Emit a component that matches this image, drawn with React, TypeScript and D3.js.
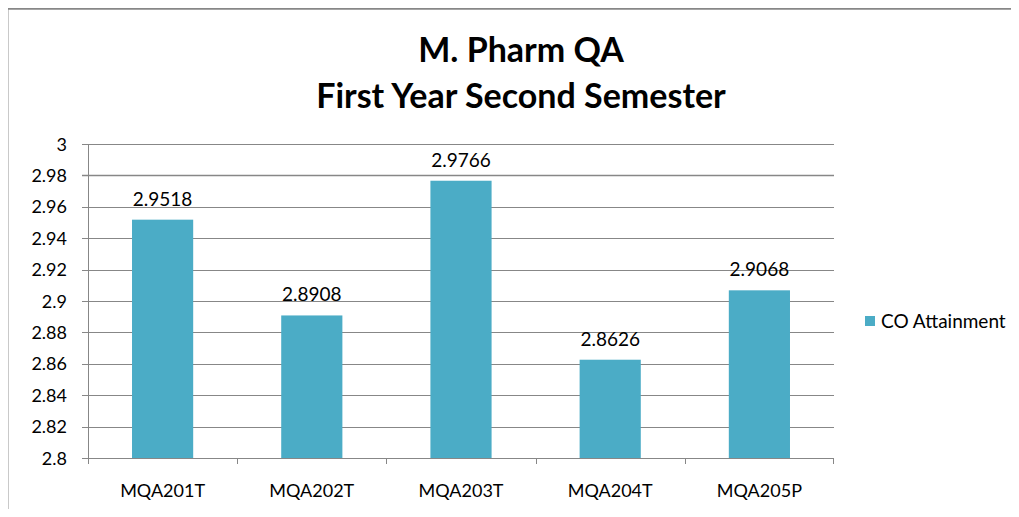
import React from 'react';
import * as d3 from 'd3';

const categories = ['MQA201T', 'MQA202T', 'MQA203T', 'MQA204T', 'MQA205P'];
const coAttainment = [2.9518, 2.8908, 2.9766, 2.8626, 2.9068];
const yTicks = [2.8, 2.82, 2.84, 2.86, 2.88, 2.9, 2.92, 2.94, 2.96, 2.98, 3];
const titleLines = ['M. Pharm QA', 'First Year Second Semester'];
const seriesName = 'CO Attainment';

const W = 1019;
const H = 517;
const FONT = 'Lato, "Open Sans", sans-serif';
const BAR = '#4bacc6';
const GRID = '#878787';

const App: React.FC = () => {
  const left = 88;
  const right = 834;
  const top = 144;
  const bottom = 458;

  const x = d3.scaleBand<string>().domain(categories).range([left, right]).paddingInner(0.59).paddingOuter(0.295);
  const band = d3.scaleBand<string>().domain(categories).range([left, right]);
  const y = d3.scaleLinear().domain([2.8, 3]).range([bottom, top]);

  return (
    <div style={{ margin: -8 }}>
      <svg width={W} height={H} style={{ display: 'block', background: '#fff' }}>
        {/* frame */}
        <line x1={7} y1={8.5} x2={W} y2={8.5} stroke={GRID} strokeWidth={2.5} />
        <line x1={7.2} y1={8} x2={7.2} y2={H} stroke={GRID} strokeWidth={2.5} />

        {/* title */}
        {titleLines.map((t, i) => (
          <text key={t} x={521} y={62 + i * 46} textAnchor="middle" fontFamily={FONT} fontWeight="bold" fontSize={34} fill="#000">
            {t}
          </text>
        ))}

        {/* gridlines + y ticks */}
        {yTicks.map((v) => (
          <g key={v}>
            <line x1={left - 6} x2={right} y1={Math.round(y(v)) + 0.5} y2={Math.round(y(v)) + 0.5} stroke={GRID} strokeWidth={v === 2.98 ? 1.6 : 1} />
            <text x={67} y={y(v) + 6.5} textAnchor="end" fontFamily={FONT} fontSize={18} fill="#000">
              {d3.format('')(v)}
            </text>
          </g>
        ))}

        {/* axes */}
        <line x1={left + 0.5} x2={left + 0.5} y1={top} y2={bottom} stroke={GRID} />
        <line x1={left} x2={right} y1={bottom + 0.5} y2={bottom + 0.5} stroke={GRID} />
        {categories.map((c) => (
          <line key={c} x1={Math.round(band(c)!) + 0.5} x2={Math.round(band(c)!) + 0.5} y1={bottom} y2={bottom + 6} stroke={GRID} />
        ))}
        <line x1={right - 0.5} x2={right - 0.5} y1={bottom} y2={bottom + 6} stroke={GRID} />

        {/* bars */}
        {categories.map((c, i) => (
          <g key={c}>
            <rect x={x(c)} y={y(coAttainment[i])} width={x.bandwidth()} height={bottom - y(coAttainment[i])} fill={BAR} />
            <text x={x(c)! + x.bandwidth() / 2} y={y(coAttainment[i]) - 14} textAnchor="middle" fontFamily={FONT} fontSize={19} fill="#000">
              {coAttainment[i]}
            </text>
            <text x={band(c)! + band.bandwidth() / 2} y={497} textAnchor="middle" fontFamily={FONT} fontSize={18} fill="#000">
              {c}
            </text>
          </g>
        ))}

        {/* legend */}
        <rect x={865} y={316} width={10} height={10} fill={BAR} />
        <text x={881} y={328} fontFamily={FONT} fontSize={19} fill="#000">
          {seriesName}
        </text>
      </svg>
    </div>
  );
};

export default App;
